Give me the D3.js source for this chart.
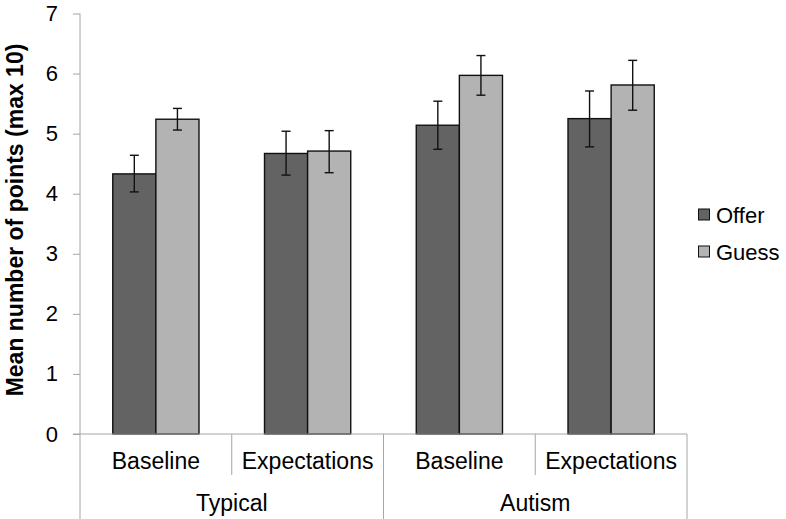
<!DOCTYPE html>
<html><head><meta charset="utf-8">
<script src="https://cdn.jsdelivr.net/npm/d3@7"></script>
<style>body{margin:0;background:#fff}</style>
</head><body>
<svg id="c" width="786" height="519"></svg>
<script>
const groups = ["Typical", "Autism"];
const conditions = ["Baseline", "Expectations"];
const series = ["Offer", "Guess"];
const offerMean = [4.33, 4.67, 5.14, 5.25];
const offerLow  = [4.03, 4.31, 4.74, 4.78];
const offerHigh = [4.64, 5.04, 5.54, 5.71];
const guessMean = [5.24, 4.71, 5.97, 5.81];
const guessLow  = [5.06, 4.35, 5.64, 5.39];
const guessHigh = [5.42, 5.05, 6.30, 6.22];
const yTicks = [0, 1, 2, 3, 4, 5, 6, 7];

const colors = {Offer: "#636363", Guess: "#b3b3b3"};
const svg = d3.select("#c");
const font = "Arial, 'Liberation Sans', sans-serif";
const L = 80, R = 687, T = 13.5, B = 434;

const cats = [];
groups.forEach(g => conditions.forEach(c => cats.push(g + "|" + c)));
const x = d3.scaleBand().domain(cats).range([L, R]).paddingInner(0).paddingOuter(0);
const xs = d3.scaleBand().domain(series).range([0, x.bandwidth()]).paddingInner(0).paddingOuter(0.76);
const y = d3.scaleLinear().domain([0, 7]).range([B, T]);

const data = [];
cats.forEach((c, i) => {
  data.push({cat: c, s: "Offer", v: offerMean[i], lo: offerLow[i], hi: offerHigh[i]});
  data.push({cat: c, s: "Guess", v: guessMean[i], lo: guessLow[i], hi: guessHigh[i]});
});

const axisColor = "#a6a6a6";
// y axis
const yAxis = d3.axisLeft(y).tickValues(yTicks).tickSize(7).tickPadding(15).tickFormat(d3.format("d"));
const ya = svg.append("g").attr("transform", `translate(${L},0)`).call(yAxis);
ya.select(".domain").remove();
ya.selectAll(".tick line").attr("stroke", axisColor);
ya.selectAll(".tick text").attr("font-family", font).attr("font-size", 22).attr("fill", "#000");
svg.append("line").attr("x1", L).attr("x2", L).attr("y1", T).attr("y2", 519).attr("stroke", axisColor);

// bars
svg.append("g").selectAll("rect").data(data).join("rect")
  .attr("x", d => x(d.cat) + xs(d.s))
  .attr("y", d => y(d.v))
  .attr("width", xs.bandwidth())
  .attr("height", d => y(0) - y(d.v))
  .attr("fill", d => colors[d.s])
  .attr("stroke", "#111").attr("stroke-width", 1.4);

// error bars
const eb = svg.append("g").attr("stroke", "#111").attr("stroke-width", 1.4);
data.forEach(d => {
  const cx = x(d.cat) + xs(d.s) + xs.bandwidth() / 2;
  eb.append("line").attr("x1", cx).attr("x2", cx).attr("y1", y(d.lo)).attr("y2", y(d.hi));
  eb.append("line").attr("x1", cx - 4.5).attr("x2", cx + 4.5).attr("y1", y(d.lo)).attr("y2", y(d.lo));
  eb.append("line").attr("x1", cx - 4.5).attr("x2", cx + 4.5).attr("y1", y(d.hi)).attr("y2", y(d.hi));
});

// baseline axis
svg.append("line").attr("x1", L - 7).attr("x2", R).attr("y1", B).attr("y2", B).attr("stroke", axisColor);

// category separators & labels
cats.forEach((c, i) => {
  const x1 = x(c) + x.bandwidth();
  const long = (i % 2 === 1);
  svg.append("line").attr("x1", x1).attr("x2", x1).attr("y1", B).attr("y2", long ? 519 : 475).attr("stroke", axisColor);
  svg.append("text").attr("x", x(c) + x.bandwidth() / 2).attr("y", 468.5)
    .attr("text-anchor", "middle").attr("font-family", font).attr("font-size", 23)
    .text(c.split("|")[1]);
});
groups.forEach((g, gi) => {
  const cx = (x(g + "|" + conditions[0]) + x(g + "|" + conditions[1]) + x.bandwidth()) / 2;
  svg.append("text").attr("x", cx).attr("y", 511)
    .attr("text-anchor", "middle").attr("font-family", font).attr("font-size", 23).text(g);
});

// y title
svg.append("text").attr("transform", `translate(23,220) rotate(-90)`)
  .attr("text-anchor", "middle").attr("font-family", font).attr("font-size", 23)
  .attr("font-weight", "bold").text("Mean number of points (max 10)");

// legend
series.forEach((s, i) => {
  const ly = 215 + i * 37;
  svg.append("rect").attr("x", 698.5).attr("y", ly - 6).attr("width", 11).attr("height", 11)
    .attr("fill", colors[s]).attr("stroke", "#111").attr("stroke-width", 1);
  svg.append("text").attr("x", 716).attr("y", ly + 8).attr("font-family", font)
    .attr("font-size", 22).text(s);
});
</script>
</body></html>
